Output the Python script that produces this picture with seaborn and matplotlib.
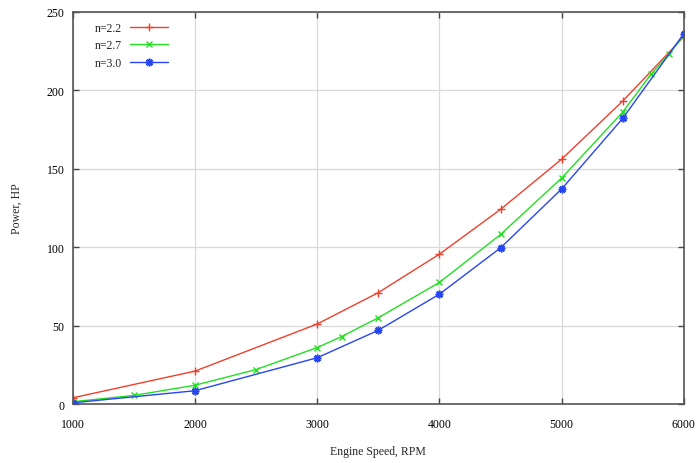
import matplotlib
matplotlib.use("Agg")
import matplotlib.pyplot as plt
import seaborn as sns

# engine speed (RPM) and power (HP) for each exponent
rpm_22 = [1000, 2000, 3000, 3500, 4000, 4500, 5000, 5500, 6000]
hp_22 = [4, 21, 51, 71, 95.5, 124, 156, 193, 234]

rpm_27 = [1000, 1500, 2000, 2500, 3000, 3200, 3500, 4000, 4500, 5000, 5500, 5730, 5880, 6000]
hp_27 = [1.5, 5.5, 12, 22, 36, 43, 55, 77.5, 108, 144, 186, 210, 223, 235]

rpm_30 = [1000, 2000, 3000, 3500, 4000, 4500, 5000, 5500, 6000]
hp_30 = [0.8, 8.5, 29.5, 47, 70, 99.5, 137, 182, 236]

sns.set_theme(style="white")
plt.rcParams["font.family"] = ["Liberation Serif", "DejaVu Serif"]

fig, ax = plt.subplots(figsize=(7, 4.64), dpi=100)
fig.subplots_adjust(left=0.104, right=0.977, top=0.973, bottom=0.127)

red, green, blue = "#f0402c", "#22e022", "#2846f0"
sns.lineplot(x=rpm_22, y=hp_22, ax=ax, color=red, linewidth=1.0,
             marker="+", markersize=5.5, markeredgewidth=1.0, markeredgecolor=red,
             label="n=2.2", sort=False)
sns.lineplot(x=rpm_27, y=hp_27, ax=ax, color=green, linewidth=1.0,
             marker="x", markersize=5, markeredgewidth=1.0, markeredgecolor=green,
             label="n=2.7", sort=False)
sns.lineplot(x=rpm_30, y=hp_30, ax=ax, color=blue, linewidth=1.0,
             marker=(8, 2, 0), markersize=5.5, markeredgewidth=1.2, markeredgecolor=blue,
             label="n=3.0", sort=False)

ax.set_xlim(1000, 6000)
ax.set_ylim(0, 250)
ax.set_xticks([1000, 2000, 3000, 4000, 5000, 6000])
ax.set_yticks([0, 50, 100, 150, 200, 250])
ax.grid(True, color="#d9d9d9", linewidth=0.9)
ax.tick_params(direction="in", length=4, width=1.0, color="#444444",
               top=True, right=True, bottom=True, left=True,
               labelsize=8.5, labelcolor="black")
ax.tick_params(axis="x", pad=10)
ax.tick_params(axis="y", pad=6)
for s in ax.spines.values():
    s.set_color("#555555")
    s.set_linewidth(1.2)

ax.set_xlabel("Engine Speed, RPM", fontsize=8.5, labelpad=11)
ax.set_ylabel("Power, HP", fontsize=8.5, labelpad=17)

leg = ax.legend(loc="upper left", markerfirst=False, frameon=False, fontsize=8.5,
                handlelength=3.2, handletextpad=0.7, labelspacing=0.45,
                borderaxespad=0.0, borderpad=0.4, bbox_to_anchor=(0.028, 0.985))

fig.savefig("out.png", dpi=100)
